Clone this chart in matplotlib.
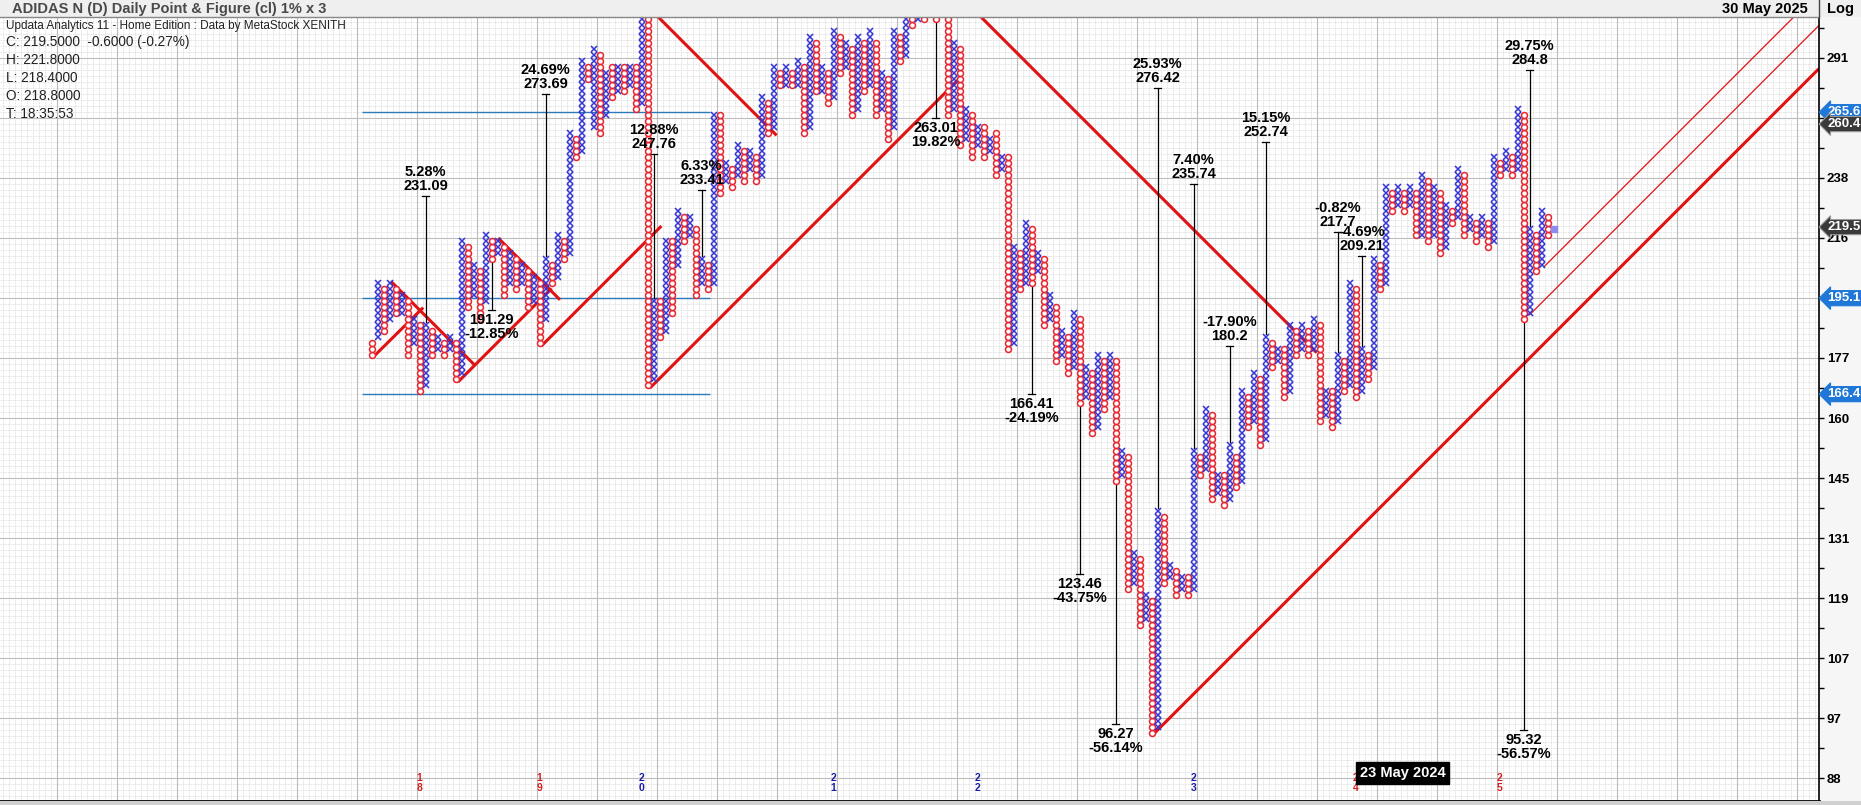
import matplotlib
matplotlib.use("Agg")
import matplotlib.pyplot as plt
from matplotlib.patches import Rectangle
from matplotlib.lines import Line2D
from matplotlib.ticker import FixedLocator, NullFormatter
import numpy as np

plt.rcParams['font.family'] = ['Liberation Sans', 'DejaVu Sans']

# ---- data (box counts, 1% boxes on a log scale) ----
BASE = 88.04
BOX = 1.01
FIRST_TYPE = "O"   # columns alternate O / X from the left

COL_LO = [70, 73, 74, 76, 77, 77, 70, 72, 64, 65, 70, 71, 70, 71, 66, 67, 78, 80, 76, 79,
          86, 87, 80, 82, 81, 82, 78, 79, 72, 76, 82, 83, 86, 87, 103, 104, 116, 108, 107, 110,
          113, 114, 114, 115, 111, 112, 65, 66, 73, 74, 77, 85, 89, 90, 80, 82, 81, 82, 97, 99,
          98, 100, 99, 101, 99, 100, 107, 108, 115, 115, 115, 115, 107, 108, 114, 114, 112, 113, 117, 118,
          110, 111, 114, 115, 110, 111, 106, 108, 119, 120, 125, 126, 126, 127, 126, 127, 110, 111, 105, 106,
          103, 105, 103, 104, 100, 101, 71, 72, 81, 82, 82, 84, 75, 76, 69, 70, 67, 68, 62, 63,
          57, 58, 61, 63, 49, 50, 31, 32, 25, 26, 7, 8, 32, 33, 30, 31, 30, 31, 50, 51,
          46, 47, 45, 46, 48, 49, 58, 59, 55, 56, 68, 69, 63, 64, 70, 71, 70, 71, 59, 60,
          58, 59, 64, 65, 63, 64, 66, 68, 81, 82, 94, 95, 94, 95, 90, 90, 89, 90, 87, 88,
          92, 93, 90, 91, 89, 90, 88, 89, 100, 101, 100, 101, 76, 77, 84, 85, 90]
COL_HI = [72, 82, 81, 82, 81, 80, 79, 76, 75, 75, 74, 73, 72, 73, 72, 89, 88, 85, 84, 90,
          89, 89, 88, 87, 86, 85, 84, 83, 82, 86, 85, 90, 89, 107, 106, 119, 118, 121, 120, 117,
          118, 118, 118, 118, 118, 126, 126, 79, 79, 89, 89, 94, 93, 93, 91, 86, 85, 110, 110, 102,
          101, 105, 104, 104, 103, 113, 112, 118, 117, 118, 117, 119, 118, 123, 122, 118, 117, 124, 123, 122,
          121, 123, 122, 124, 122, 117, 116, 124, 123, 130, 131, 132, 131, 132, 131, 132, 131, 122, 121, 111,
          110, 108, 108, 106, 107, 103, 103, 88, 87, 92, 91, 87, 86, 80, 78, 74, 73, 77, 76, 68,
          67, 70, 69, 70, 69, 54, 53, 37, 36, 30, 29, 44, 43, 35, 34, 33, 33, 54, 53, 61,
          60, 50, 50, 55, 53, 64, 63, 67, 66, 73, 72, 71, 71, 75, 74, 75, 74, 76, 75, 64,
          64, 70, 69, 82, 81, 71, 70, 86, 85, 98, 97, 98, 97, 98, 97, 100, 99, 98, 97, 95,
          94, 101, 100, 93, 92, 93, 92, 103, 102, 104, 103, 111, 110, 91, 90, 94, 93]
CURRENT_BOX = 91   # last box being built

# price targets: (column, target price, percent text)
ANN_COLS = [9, 20, 29, 47, 55, 94, 110, 118, 124, 131, 137, 143, 149, 161, 165, 193, 192]
ANN_PRICES = [231.09, 191.29, 273.69, 247.76, 233.41, 263.01, 166.41, 123.46, 96.27,
              276.42, 235.74, 180.2, 252.74, 217.7, 209.21, 284.8, 95.32]
ANN_PCTS = ["5.28%", "-12.85%", "24.69%", "12.88%", "6.33%", "19.82%", "-24.19%", "-43.75%",
            "-56.14%", "25.93%", "7.40%", "-17.90%", "15.15%", "-0.82%", "-4.69%", "29.75%", "-56.57%"]

# 45 degree trend lines: (col0, box0, col1, box1)
TRENDS = [(0.3, 70.2, 8.6, 78.4), (3.3, 82.7, 17.3, 68.7), (14.4, 66.0, 30.0, 81.6),
          (21.1, 90.0, 31.4, 79.7), (28.3, 72.0, 48.3, 92.0), (47.8, 126.8, 67.5, 107.1),
          (46.4, 65.0, 98.3, 116.9), (101.6, 126.8, 157.5, 70.9), (130.0, 7.0, 241.2, 118.2)]
THIN_TRENDS = [(193.0, 77.2, 241.2, 125.4), (195.4, 85.2, 237.0, 126.8)]

HLINE_PRICES = [265.6, 195.1, 166.4]
HLINE_SPAN = (-1.6, 56.4)

BADGE_PRICES = [265.6, 260.4, 219.5, 195.1, 166.4]
BADGE_COLORS = ["#1f78d8", "#3a3a3a", "#3a3a3a", "#1f78d8", "#1f78d8"]
HIDDEN_TICKS = [263, 195]   # axis labels sitting under the price badges

YEAR_COLS = [8, 28, 45, 77, 101, 137, 164, 188]
YEAR_LABELS = ["18", "19", "20", "21", "22", "23", "24", "25"]
YEAR_COLORS = ["#d42020", "#d42020", "#1c1caa", "#1c1caa", "#1c1caa", "#1c1caa", "#d42020", "#d42020"]

INFO = ["C: 219.5000  -0.6000 (-0.27%)", "H: 221.8000", "L: 218.4000", "O: 218.8000", "T: 18:35:53"]

W, H = 1861, 805
def price(k):
    return BASE * BOX ** np.asarray(k, dtype=float)

def fx(px):
    return px / W

def fy(py):
    return 1 - py / H

fig = plt.figure(figsize=(W / 100, H / 100), dpi=100, facecolor="#f6f6f6")
ax = fig.add_axes([0, fy(801), fx(1819), fy(17) - fy(801)])
ax.set_facecolor("white")
ax.set_yscale("log")
k_lo, k_hi = -3.83, 126.83
x_lo, x_hi = -61.93, 241.23
ax.set_xlim(x_lo, x_hi)
ax.set_ylim(price(k_lo), price(k_hi))

# grid: one box per line, heavier every 10
for c in np.arange(np.floor(x_lo), x_hi) + 0.5:
    major = (c - 7.5) % 10 == 0
    ax.axvline(c, color="#bcbcbc" if major else "#e0e0e0", lw=0.8 if major else 0.6,
               ls="-" if major else (0, (2, 1)), zorder=0)
for k in range(int(np.floor(k_lo)), int(np.ceil(k_hi)) + 1):
    major = k % 10 == 0
    ax.axhline(price(k), color="#bcbcbc" if major else "#e0e0e0", lw=0.8 if major else 0.6,
               ls="-" if major else (0, (2, 1)), zorder=0)

# horizontal reference lines
for p in HLINE_PRICES:
    ax.hlines(p, HLINE_SPAN[0], HLINE_SPAN[1], color="#2b7bb9", lw=1.0, zorder=1)

# trend lines
for c0, k0, c1, k1 in TRENDS:
    ax.plot([c0, c1], price([k0, k1]), color="#e01212", lw=2.2, zorder=2, solid_capstyle="butt")
for c0, k0, c1, k1 in THIN_TRENDS:
    ax.plot([c0, c1], price([k0, k1]), color="#e01212", lw=0.9, zorder=2)

# target lines + labels
for c, p, pct in zip(ANN_COLS, ANN_PRICES, ANN_PCTS):
    k_t = np.log(p / BASE) / np.log(BOX)
    up = k_t > COL_HI[c]
    start = price(COL_HI[c] + 1) if up else price(COL_LO[c])
    ax.plot([c, c], [start, p], color="black", lw=0.9, zorder=3)
    ax.plot([c - 0.6, c + 0.6], [p, p], color="black", lw=0.9, zorder=3)
    ptxt = f"{p:g}"
    if up:
        ax.annotate(pct + "\n" + ptxt, (c, p), xytext=(0, 2), textcoords="offset points",
                    ha="center", va="bottom", fontsize=10.5, fontweight="bold", linespacing=1.05, zorder=6)
    else:
        ax.annotate(ptxt + "\n" + pct, (c, p), xytext=(0, -2), textcoords="offset points",
                    ha="center", va="top", fontsize=10.5, fontweight="bold", linespacing=1.05, zorder=6)

# point & figure columns
xs_x, ys_x, xs_o, ys_o = [], [], [], []
for i, (lo, hi) in enumerate(zip(COL_LO, COL_HI)):
    is_o = (i % 2 == 0) == (FIRST_TYPE == "O")
    ks = np.arange(lo, hi + 1) + 0.5
    if is_o:
        xs_o += [i] * len(ks); ys_o += list(price(ks))
    else:
        xs_x += [i] * len(ks); ys_x += list(price(ks))
ax.plot(xs_o, ys_o, ls="none", marker="o", ms=4.3, mfc="white", mec="#e8262e", mew=1.1, zorder=4)
ax.plot(xs_x, ys_x, ls="none", marker="x", ms=4.3, mec="#3535d4", mew=1.1, zorder=4)
ax.plot([len(COL_LO)], [price(CURRENT_BOX + 0.5)], ls="none", marker="s", ms=4.5,
        mfc="#8c8cf0", mec="#8c8cf0", zorder=4)

# year markers
for c, lab, col in zip(YEAR_COLS, YEAR_LABELS, YEAR_COLORS):
    ax.text(c, price(-0.8), "\n".join(lab), ha="center", va="center", fontsize=7.5,
            fontweight="bold", color=col, linespacing=0.95, zorder=6)
ax.text(171.8, price(0.85), "23 May 2024", ha="center", va="center", fontsize=10.5,
        fontweight="bold", color="white", zorder=7,
        bbox=dict(boxstyle="square,pad=0.25", fc="black", ec="black"))

# right axis
ax.yaxis.tick_right()
maj = [price(k) for k in range(0, 130, 10)]
mnr = [price(k) for k in range(5, 130, 10)]
ax.yaxis.set_major_locator(FixedLocator(maj))
ax.yaxis.set_minor_locator(FixedLocator(mnr))
ax.yaxis.set_minor_formatter(NullFormatter())
ax.set_yticklabels(["" if round(v) in HIDDEN_TICKS else f"{round(v)}" for v in maj])
ax.tick_params(axis="y", which="both", direction="out", length=3.5, width=1, pad=2,
               labelsize=9.5, colors="black")
for t in ax.get_yticklabels():
    t.set_fontweight("bold")
ax.set_xticks([])
for s in ["left", "top"]:
    ax.spines[s].set_visible(False)
ax.spines["right"].set_linewidth(1.2)
ax.spines["bottom"].set_linewidth(2)

for p, col in zip(BADGE_PRICES, BADGE_COLORS):
    ax.text(1.0045, p, f"{p:g}", transform=ax.get_yaxis_transform(), ha="left", va="center",
            fontsize=9.5, fontweight="bold", color="white", clip_on=False, zorder=10,
            bbox=dict(boxstyle="larrow,pad=0.12", fc=col, ec="#9a9a9a" if col == "#3a3a3a" else col, lw=0.8))

# header bar and info text
fig.patches.append(Rectangle((0, fy(17)), 1, 17 / H, transform=fig.transFigure,
                             fc="#efefef", ec="none", zorder=0))
fig.lines.append(Line2D([0, fx(1819)], [fy(17), fy(17)], transform=fig.transFigure,
                        color="#888888", lw=1))
fig.lines.append(Line2D([fx(1819), fx(1819)], [fy(17), 1], transform=fig.transFigure,
                        color="#444444", lw=1))
fig.patches.append(Rectangle((0, 0), 1, 4 / H, transform=fig.transFigure,
                             fc="#d0d0d0", ec="none", zorder=0))
fig.text(fx(12), fy(8.5), "ADIDAS N (D) Daily Point & Figure (cl) 1% x 3", ha="left", va="center",
         fontsize=10.5, fontweight="bold", color="#4a4a4a")
fig.text(fx(1808), fy(8.5), "30 May 2025", ha="right", va="center", fontsize=10.5,
         fontweight="bold", color="black")
fig.text(fx(1841), fy(8.5), "Log", ha="center", va="center", fontsize=10.5,
         fontweight="bold", color="black")
fig.text(fx(6), fy(26), "Updata Analytics 11 - Home Edition : Data by MetaStock XENITH",
         ha="left", va="center", fontsize=8.5, color="#222222")
for j, line in enumerate(INFO):
    fig.text(fx(6), fy(42 + 17.9 * j), line, ha="left", va="center", fontsize=9.8, color="#222222")

fig.savefig("out.png", dpi=100, facecolor=fig.get_facecolor())
